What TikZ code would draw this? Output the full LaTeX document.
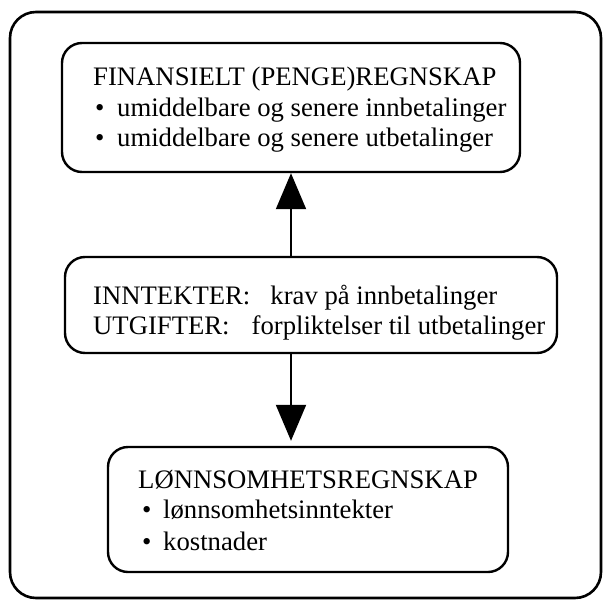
\documentclass[tikz,border=0pt]{standalone}
\usepackage{fontspec}
\setmainfont{Liberation Serif}
\usetikzlibrary{arrows.meta}
\begin{document}
\begin{tikzpicture}[x=1pt,y=-1pt,
  frame/.style={draw, line width=2.6pt, rounded corners=26pt},
  panel/.style={draw, line width=2.4pt, rounded corners=20pt, inner sep=0pt},
  txt/.style={anchor=base west, inner sep=0pt, font=\fontsize{26.7}{32}\selectfont},
  flow/.style={line width=2pt, -{Triangle[length=36pt,width=30pt]}}]
\useasboundingbox (0,0) rectangle (603,600);
% outer frame
\draw[frame] (10,12) rectangle (601,598);
% the three panels
\node[panel, minimum width=458pt, minimum height=129pt] (top) at (291,107.5) {};
\node[panel, minimum width=492pt, minimum height=96pt] (mid) at (311,305) {};
\node[panel, minimum width=400pt, minimum height=125pt] (low) at (308,509.5) {};
% panel texts
\node[txt] (t1) at (93,85) {FINANSIELT (PENGE)REGNSKAP};
\node[txt] (t2) at (95,116) {\makebox[22pt][l]{•}umiddelbare og senere innbetalinger};
\node[txt] (t3) at (95,146) {\makebox[22pt][l]{•}umiddelbare og senere utbetalinger};
\node[txt] (m1) at (93,304) {INNTEKTER:\hspace{20pt}krav på innbetalinger};
\node[txt] (m2) at (93,334) {UTGIFTER:\hspace{22pt}forpliktelser til utbetalinger};
\node[txt] (b1) at (138,488) {LØNNSOMHETSREGNSKAP};
\node[txt] (b2) at (142,518) {\makebox[21pt][l]{•}lønnsomhetsinntekter};
\node[txt] (b3) at (142,550) {\makebox[21pt][l]{•}kostnader};
% connectors
\draw[flow] (top.south |- mid.north) -- (top.south);
\draw[flow, shorten >=5pt] (top.south |- mid.south) -- (top.south |- low.north);
\end{tikzpicture}
\end{document}
